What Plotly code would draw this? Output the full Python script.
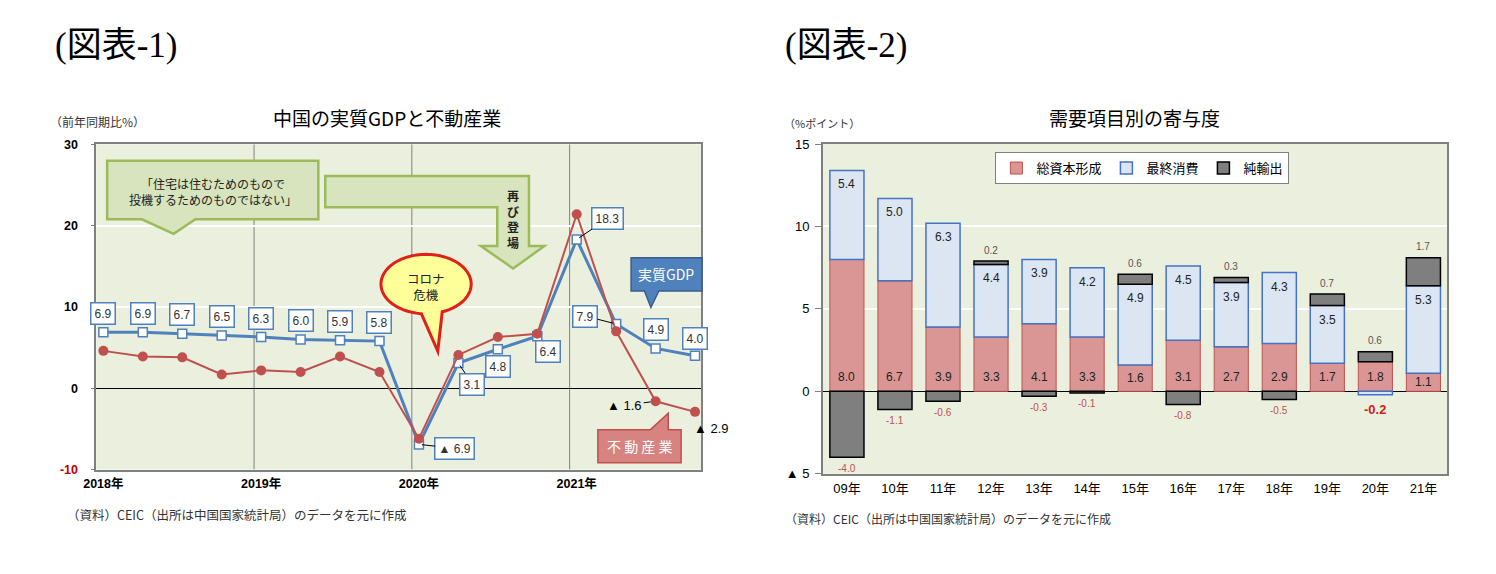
import math
import plotly.graph_objects as go

W, H = 1496, 574

# ---------------- data: chart 1 (quarterly, % y/y) ----------------
quarters = ["2018Q1", "2018Q2", "2018Q3", "2018Q4", "2019Q1", "2019Q2", "2019Q3", "2019Q4",
            "2020Q1", "2020Q2", "2020Q3", "2020Q4", "2021Q1", "2021Q2", "2021Q3", "2021Q4"]
gdp = [6.9, 6.9, 6.7, 6.5, 6.3, 6.0, 5.9, 5.8, -6.9, 3.1, 4.8, 6.4, 18.3, 7.9, 4.9, 4.0]
realestate = [4.6, 3.9, 3.8, 1.7, 2.2, 2.0, 3.9, 2.0, -6.2, 4.1, 6.3, 6.7, 21.4, 7.0, -1.6, -2.9]
year_ticks = ["2018Q1", "2019Q1", "2020Q1", "2021Q1"]
year_labels = ["2018年", "2019年", "2020年", "2021年"]
y1_ticks = [-10, 0, 10, 20, 30]

# ---------------- data: chart 2 (annual contributions, %pt) ----------------
years2 = ["09年", "10年", "11年", "12年", "13年", "14年", "15年", "16年", "17年", "18年", "19年", "20年", "21年"]
capital = [8.0, 6.7, 3.9, 3.3, 4.1, 3.3, 1.6, 3.1, 2.7, 2.9, 1.7, 1.8, 1.1]
consumption = [5.4, 5.0, 6.3, 4.4, 3.9, 4.2, 4.9, 4.5, 3.9, 4.3, 3.5, -0.2, 5.3]
netexport = [-4.0, -1.1, -0.6, 0.2, -0.3, -0.1, 0.6, -0.8, 0.3, -0.5, 0.7, 0.6, 1.7]
y2_ticks = [-5, 0, 5, 10, 15]
y2_ticktext = ["▲ 5", "0", "5", "10", "15"]

JP = "Noto Sans CJK JP"
LAT = "Liberation Sans, Noto Sans CJK JP"
SERIF = "Liberation Serif, Noto Sans CJK JP"


def px(x):
    return x / W


def py(y):
    return 1 - y / H


def path(points):
    return "M " + " L ".join(f"{px(a):.5f},{py(b):.5f}" for a, b in points) + " Z"


fig = go.Figure()

# ---------- chart 1 traces ----------
fig.add_trace(go.Scatter(
    x=quarters, y=gdp, mode="lines+markers", xaxis="x", yaxis="y",
    line=dict(color="#4f81bd", width=3),
    marker=dict(symbol="square", size=9, color="white", line=dict(color="#4f81bd", width=1.5)),
    showlegend=False, cliponaxis=False))
fig.add_trace(go.Scatter(
    x=quarters, y=realestate, mode="lines+markers", xaxis="x", yaxis="y",
    line=dict(color="#c0504d", width=2),
    marker=dict(symbol="circle", size=10, color="#c0504d"),
    showlegend=False, cliponaxis=False))

# ---------- chart 2 traces ----------
fig.add_trace(go.Bar(x=years2, y=capital, name="総資本形成", xaxis="x2", yaxis="y2", width=0.71,
                     marker=dict(color="#d99694", line=dict(color="#c0504d", width=1))))
fig.add_trace(go.Bar(x=years2, y=consumption, name="最終消費", xaxis="x2", yaxis="y2", width=0.71,
                     marker=dict(color="#dce6f2", line=dict(color="#4472c4", width=1.5))))
fig.add_trace(go.Bar(x=years2, y=netexport, name="純輸出", xaxis="x2", yaxis="y2", width=0.71,
                     marker=dict(color="#7f7f7f", line=dict(color="#000000", width=1.5))))

ann = []
shapes = []

# ---------- chart 1 value labels ----------
# (dx, dy in pixels of label centre from the point, leader line?)
gdp_label_place = [(0, -19, False)] * 8 + [
    (36, 4, True), (14, 21, True), (0, 17, False), (11, 15, False),
    (31, -21, True), (-31, -8, True), (0, -19, False), (0, -17, False)]


def fmt1(v):
    return f"▲ {abs(v):.1f}" if v < 0 else f"{v:.1f}"


for q, v, (dx, dy, lead) in zip(quarters, gdp, gdp_label_place):
    a = dict(x=q, y=v, xref="x", yref="y", text=fmt1(v),
             font=dict(family=LAT, size=12, color="#333333"),
             bgcolor="white", bordercolor="#4f81bd", borderwidth=1.5, borderpad=3)
    if lead:
        a.update(showarrow=True, ax=dx, ay=dy, arrowhead=0, arrowwidth=1, arrowcolor="black", standoff=3)
    else:
        a.update(showarrow=False, xshift=dx, yshift=-dy)
    ann.append(a)

re_label_place = {14: (-31, 4, True), 15: (16, 17, False)}
for i, (dx, dy, lead) in re_label_place.items():
    a = dict(x=quarters[i], y=realestate[i], xref="x", yref="y", text=fmt1(realestate[i]),
             font=dict(family=LAT, size=13, color="black"))
    if lead:
        a.update(showarrow=True, ax=dx, ay=dy, arrowhead=0, arrowwidth=1, arrowcolor="black", standoff=5)
    else:
        a.update(showarrow=False, xshift=dx, yshift=-dy)
    ann.append(a)

# year separator lines
for yt in year_ticks[1:]:
    xv = quarters.index(yt) - 0.18
    shapes.append(dict(type="line", xref="x", yref="y", x0=xv, x1=xv, y0=-10, y1=30,
                       line=dict(color="#808080", width=1), layer="below"))

# callout: slogan
shapes.append(dict(type="path", xref="paper", yref="paper",
                   path=path([(95, 158), (308, 158), (308, 218), (184, 218), (162, 233), (130, 218), (95, 218)]),
                   fillcolor="#d7e4bd", line=dict(color="#9bbb59", width=2.5), layer="above"))
# bent arrow
shapes.append(dict(type="path", xref="paper", yref="paper",
                   path=path([(315, 173.5), (520.5, 173.5), (520.5, 245.5), (536, 245.5), (504.5, 268.5),
                              (472, 245.5), (488.5, 245.5), (488.5, 205.5), (315, 205.5)]),
                   fillcolor="#d7e4bd", line=dict(color="#9bbb59", width=2.5), layer="above"))
# ellipse callout
cx, cy, rx, ry = 416.7, 284.5, 45.5, 30.5
pts = []
tip_done = False
for deg in range(0, 360, 3):
    if 70 < deg < 95:
        if not tip_done:
            pts.append((428.5, 353.5))
            tip_done = True
        continue
    t = math.radians(deg)
    pts.append((cx + rx * math.cos(t), cy + ry * math.sin(t)))
shapes.append(dict(type="path", xref="paper", yref="paper", path=path(pts),
                   fillcolor="#ffff99", line=dict(color="#e0201a", width=3), layer="above"))
# GDP callout
shapes.append(dict(type="path", xref="paper", yref="paper",
                   path=path([(623.5, 257.5), (695, 257.5), (695, 291.5), (651.5, 291.5), (643.5, 308.5),
                              (637, 291.5), (623.5, 291.5)]),
                   fillcolor="#4f81bd", line=dict(color="#385d8a", width=1.5), layer="above"))
# real-estate callout
shapes.append(dict(type="path", xref="paper", yref="paper",
                   path=path([(590, 434), (643, 434), (661, 417), (661, 434), (674, 434), (674, 468), (590, 468)]),
                   fillcolor="#d78381", line=dict(color="#c0504d", width=1.5), layer="above"))

# ---------- chart 2 value labels ----------
for yr, c, s, n in zip(years2, capital, consumption, netexport):
    ann.append(dict(x=yr, y=min(c / 2, 0.85), xref="x2", yref="y2", showarrow=False, text=f"{c:.1f}",
                    font=dict(family=LAT, size=12, color="#222222")))
    if s >= 0:
        ann.append(dict(x=yr, y=c + s, xref="x2", yref="y2", showarrow=False, text=f"{s:.1f}", yshift=-14,
                        font=dict(family=LAT, size=12, color="#222222")))
        top = c + s
    else:
        ann.append(dict(x=yr, y=s, xref="x2", yref="y2", showarrow=False, text=f"<b>{s:.1f}</b>", yshift=-15,
                        font=dict(family=LAT, size=13, color="#d02020")))
        top = c
    if n >= 0:
        ann.append(dict(x=yr, y=top + n, xref="x2", yref="y2", showarrow=False, text=f"{n:.1f}", yshift=11,
                        font=dict(family=LAT, size=10, color="#555555")))
    else:
        ann.append(dict(x=yr, y=n, xref="x2", yref="y2", showarrow=False, text=f"{n:.1f}", yshift=-11,
                        font=dict(family=LAT, size=10, color="#c0504d")))

# ---------- titles, notes, callout texts (paper coordinates) ----------
texts = [
    ("(図表-1)", 104, 40, SERIF, 35, "black"),
    ("(図表-2)", 840, 40, SERIF, 35, "black"),
    ("中国の実質GDPと不動産業", 377, 113, JP, 19, "black"),
    ("需要項目別の寄与度", 1131, 113, JP, 19, "black"),
    ("（前年同期比%）", 85, 118, JP, 12, "#333333"),
    ("（%ポイント）", 816, 119, JP, 11, "#333333"),
    ("（資料）CEIC（出所は中国国家統計局）のデータを元に作成", 225, 521, JP, 12.5, "#333333"),
    ("（資料）CEIC（出所は中国国家統計局）のデータを元に作成", 943, 525, JP, 12, "#333333"),
    ("「住宅は住むためのもので<br>投機するためのものではない」", 201.5, 189, JP, 12, "#222222"),
    ("<b>再<br>び<br>登<br>場</b>", 504.5, 218, JP, 12, "#222222"),
    ("コロナ<br>危機", 416.7, 286.5, JP, 12.5, "#222222"),
    ("実質GDP", 659, 274.5, JP, 14, "white"),
    ("不 動 産 業", 632, 451, JP, 14, "white"),
]
for t, x, y, fam, size, col in texts:
    ann.append(dict(x=px(x), y=py(y), xref="paper", yref="paper", showarrow=False, text=t,
                    xanchor="center", yanchor="middle",
                    font=dict(family=fam, size=size, color=col)))

y1_ticktext = [f'<span style="color:#c00000">{v}</span>' if v < 0 else f"{v}" for v in y1_ticks]

fig.update_layout(
    width=W, height=H, margin=dict(l=0, r=0, t=0, b=0),
    paper_bgcolor="white", plot_bgcolor="#ebf0de",
    barmode="relative",
    font=dict(family=LAT, size=12, color="black"),
    showlegend=True,
    legend=dict(orientation="h", x=px(991), y=py(149), xanchor="left", yanchor="top",
                bgcolor="white", bordercolor="#808080", borderwidth=1,
                font=dict(family=JP, size=13, color="black"), traceorder="normal"),
    xaxis=dict(domain=[px(84), px(694)], anchor="y", type="category", range=[-0.18, 15.15],
               tickvals=year_ticks, ticktext=[f"<b>{t}</b>" for t in year_labels],
               showgrid=False, showline=True, mirror=True, linecolor="#808080", linewidth=1.5,
               ticks="outside", ticklen=2, tickcolor="rgba(0,0,0,0)", tickfont=dict(size=12.5)),
    yaxis=dict(domain=[py(475), py(141)], anchor="x", range=[-10, 30],
               tickvals=y1_ticks, ticktext=[f"<b>{t}</b>" for t in y1_ticktext],
               showgrid=True, gridcolor="white", gridwidth=1.5,
               zeroline=True, zerolinecolor="black", zerolinewidth=1,
               showline=True, mirror=True, linecolor="#808080", linewidth=1.5,
               ticks="outside", ticklen=4, tickcolor="#808080", ticklabelstandoff=10,
               tickfont=dict(size=12.5)),
    xaxis2=dict(domain=[px(817), px(1447)], anchor="y2", type="category", range=[-0.5, 12.5],
                showgrid=False, showline=True, mirror=True, linecolor="#808080", linewidth=1.5,
                ticks="outside", ticklen=2, tickcolor="rgba(0,0,0,0)", tickfont=dict(size=13)),
    yaxis2=dict(domain=[py(479.3), py(140.7)], anchor="x2", range=[-5, 15],
                tickvals=y2_ticks, ticktext=y2_ticktext,
                showgrid=True, gridcolor="white", gridwidth=1.5,
                zeroline=True, zerolinecolor="black", zerolinewidth=1,
                showline=True, mirror=True, linecolor="#808080", linewidth=1.5,
                ticks="outside", ticklen=6, tickcolor="#808080", ticklabelstandoff=3,
                tickfont=dict(size=13)),
    annotations=ann,
    shapes=shapes,
)

fig.write_html("out.html", config={"displayModeBar": False},
               post_script="document.body.style.margin='0';document.documentElement.style.overflow='hidden';")
